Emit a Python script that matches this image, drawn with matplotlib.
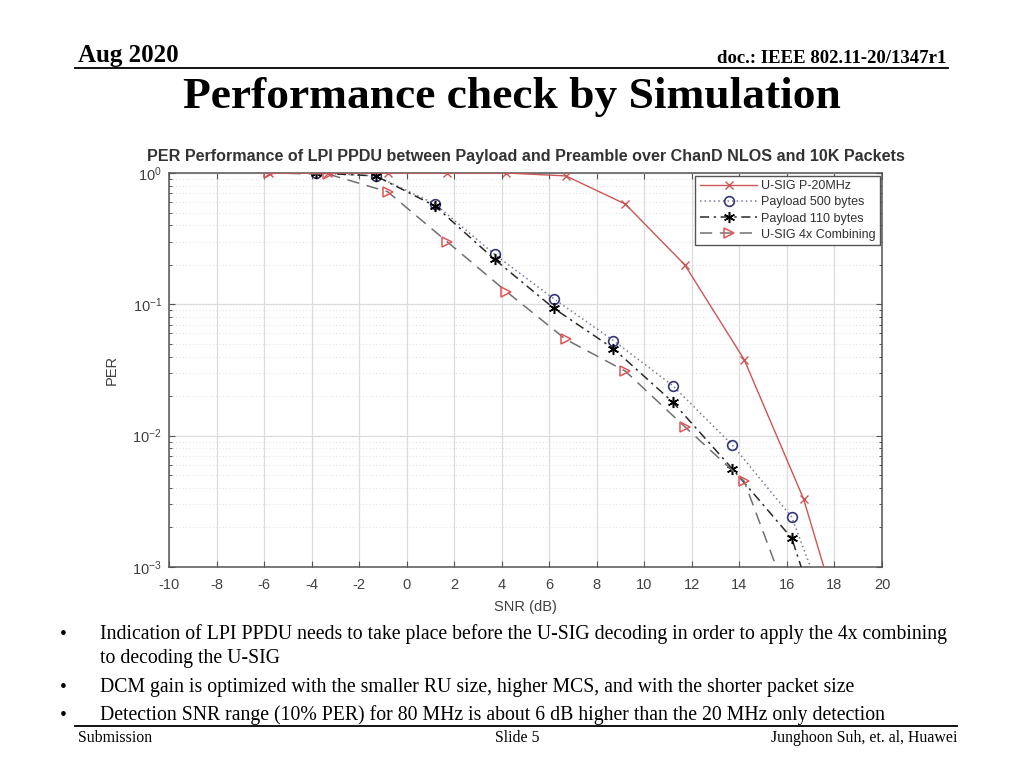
import matplotlib
matplotlib.use("Agg")
import matplotlib.pyplot as plt
from matplotlib.lines import Line2D
from matplotlib.ticker import LogLocator, FixedLocator, NullFormatter

plt.rcParams["axes.unicode_minus"] = False

# ---------------- data ----------------
snr_p20 = [-5.8, -3.3, -0.8, 1.7, 4.2, 6.7, 9.2, 11.7, 14.2, 16.7, 19.2]
per_usig_p20 = [1.0, 1.0, 1.0, 1.0, 1.0, 0.95, 0.58, 0.20, 0.038, 0.0033, 0.0001]

snr_payload = [-3.8, -1.3, 1.2, 3.7, 6.2, 8.7, 11.2, 13.7, 16.2, 18.7]
per_payload_500 = [1.0, 0.95, 0.58, 0.24, 0.11, 0.053, 0.024, 0.0085, 0.0024, 0.00015]
per_payload_110 = [1.0, 0.95, 0.56, 0.22, 0.093, 0.046, 0.018, 0.0056, 0.00166, 0.00007]

snr_4x = [-5.8, -3.3, -0.8, 1.7, 4.2, 6.7, 9.2, 11.7, 14.2, 16.7]
per_usig_4x = [1.0, 0.98, 0.72, 0.30, 0.125, 0.054, 0.031, 0.0117, 0.0045, 0.00028]

series_labels = ["U-SIG P-20MHz", "Payload 500 bytes", "Payload 110 bytes", "U-SIG 4x Combining"]
x_ticks = list(range(-10, 21, 2))

chart_title = "PER Performance of LPI PPDU between Payload and Preamble over ChanD NLOS and 10K Packets"
x_label = "SNR (dB)"
y_label = "PER"

slide_date = "Aug 2020"
slide_doc = "doc.: IEEE 802.11-20/1347r1"
slide_title = "Performance check by Simulation"
bullets = [
    "Indication of LPI PPDU needs to take place before the U-SIG decoding in order to apply the 4x combining",
    "to decoding the U-SIG",
    "DCM gain is optimized with the smaller RU size, higher MCS, and with the shorter packet size",
    "Detection SNR range (10% PER) for 80 MHz is about 6 dB higher than the 20 MHz only detection",
]
bullet_marks = [True, False, True, True]
footer_left = "Submission"
footer_mid = "Slide 5"
footer_right = "Junghoon Suh, et. al, Huawei"

# ---------------- figure ----------------
W, H = 1024, 768
fig = plt.figure(figsize=(W / 100, H / 100), dpi=100)
fig.patch.set_facecolor("white")

def fx(px):
    return px / W

def fy(py):
    return 1 - py / H

serif = ["Liberation Serif", "DejaVu Serif"]
sans = ["Liberation Sans", "DejaVu Sans"]

# Slide header
fig.text(fx(78), fy(62), slide_date, family=serif, fontweight="bold", fontsize=18,
         ha="left", va="baseline")
fig.text(fx(946), fy(63), slide_doc, family=serif, fontweight="bold", fontsize=13.5,
         ha="right", va="baseline")
fig.add_artist(Line2D([fx(75), fx(948)], [fy(67.5), fy(67.5)], color="black", lw=1.3))
fig.text(fx(512), fy(108), slide_title, family=serif, fontweight="bold", fontsize=32.7,
         ha="center", va="baseline")

# Bullets
bullet_y = [639, 663, 692, 720]
for txt, mark, yb in zip(bullets, bullet_marks, bullet_y):
    if mark:
        fig.text(fx(60), fy(yb), "\u2022", family=serif, fontsize=14, ha="left", va="baseline")
    fig.text(fx(100), fy(yb), txt, family=serif, fontsize=14.2, ha="left", va="baseline")

# Footer
fig.add_artist(Line2D([fx(75), fx(957)], [fy(725.5), fy(725.5)], color="black", lw=1.3))
fig.text(fx(78), fy(742), footer_left, family=serif, fontsize=11.4, ha="left", va="baseline")
fig.text(fx(517), fy(742), footer_mid, family=serif, fontsize=11.4, ha="center", va="baseline")
fig.text(fx(957), fy(742), footer_right, family=serif, fontsize=11.4, ha="right", va="baseline")

# ---------------- chart ----------------
ax_l, ax_r, ax_t, ax_b = 169, 882, 173, 567
ax = fig.add_axes([fx(ax_l), fy(ax_b), fx(ax_r - ax_l), (ax_b - ax_t) / H])

red = "#cc5555"
ax.plot(snr_p20, per_usig_p20, color=red, lw=1.0, marker="x", ms=6, mew=1.0,
        label=series_labels[0], zorder=4)
ax.plot(snr_payload, per_payload_500, color="#7a7a9a", lw=1.1, ls=(0, (1, 2)),
        marker="o", ms=7, mfc="none", mec="#35357a", mew=1.2,
        label=series_labels[1], zorder=3)
ax.plot(snr_payload, per_payload_110, color="#2a2a2a", lw=1.1, ls=(0, (6, 3, 1.5, 3)),
        marker=(6, 2, 0), ms=8, mec="black", mew=1.1,
        label=series_labels[2], zorder=3)
ax.plot(snr_4x, per_usig_4x, color="#707070", lw=1.1, ls=(0, (8, 5)),
        marker=">", ms=7, mfc="none", mec="#e05555", mew=1.1,
        label=series_labels[3], zorder=3)

ax.set_yscale("log")
ax.set_xlim(-10, 20)
ax.set_ylim(1e-3, 1)
ax.xaxis.set_major_locator(FixedLocator(x_ticks))
ax.yaxis.set_major_locator(LogLocator(base=10, numticks=10))
ax.yaxis.set_minor_locator(LogLocator(base=10, subs=range(2, 10), numticks=20))
ax.yaxis.set_minor_formatter(NullFormatter())

ax.grid(True, which="major", axis="both", color="#dcdcdc", lw=0.9, ls="-")
ax.grid(True, which="minor", axis="y", color="#e4e4e4", lw=0.8, ls=(0, (1, 2)))
ax.set_axisbelow(True)

tick_col = "#404040"
ax.tick_params(axis="both", which="both", direction="in", top=True, right=True,
               colors="#555555", labelcolor=tick_col, labelsize=10.5)
ax.tick_params(axis="x", which="major", pad=8)
ax.tick_params(axis="y", which="major", pad=5)
ax.tick_params(axis="both", which="major", length=4, width=0.8)
ax.tick_params(axis="y", which="minor", length=2.5, width=0.7)
for lbl in ax.get_xticklabels() + ax.get_yticklabels():
    lbl.set_family(sans)
for s in ax.spines.values():
    s.set_color("#555555")
    s.set_linewidth(1.1)

ax.set_title(chart_title, family=sans, fontsize=11.6, fontweight="bold", color="#333333", pad=9)
ax.set_xlabel(x_label, family=sans, fontsize=10.5, color="#404040", labelpad=6)
ax.set_ylabel(y_label, family=sans, fontsize=10.5, color="#404040", labelpad=10)

leg = ax.legend(loc="upper right", bbox_to_anchor=(1.0 - 2 / (ax_r - ax_l), 1.0 - 3 / (ax_b - ax_t)),
                prop={"family": sans, "size": 9}, frameon=True, fancybox=False,
                framealpha=1, edgecolor="#555555", handlelength=4.6, handletextpad=0.3,
                borderpad=0.35, labelspacing=0.33, borderaxespad=0.0)
leg.get_frame().set_linewidth(1.0)
for t in leg.get_texts():
    t.set_color("#303030")

fig.savefig("out.png", dpi=100, facecolor="white")
